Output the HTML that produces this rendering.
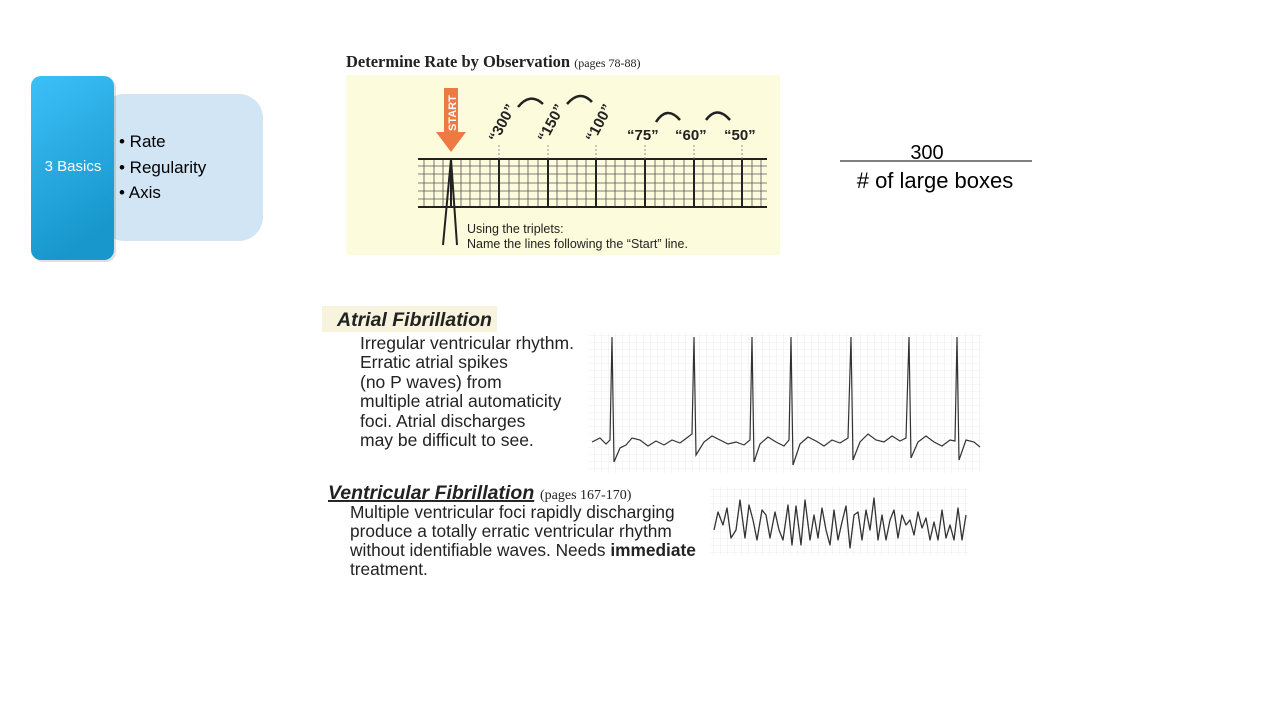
<!DOCTYPE html>
<html><head><meta charset="utf-8"><style>
html,body{margin:0;padding:0;background:#fff;}
body{width:1280px;height:720px;overflow:hidden;position:relative;font-family:"Liberation Sans",sans-serif;}
</style></head><body>
<svg width="1280" height="720" viewBox="0 0 1280 720" xmlns="http://www.w3.org/2000/svg" style="position:absolute;left:0;top:0">
<defs>
<linearGradient id="bg1" x1="0" y1="0" x2="0.3" y2="1">
<stop offset="0" stop-color="#3cc0f8"/><stop offset="1" stop-color="#1797cc"/></linearGradient>
<pattern id="sg" width="7" height="7" patternUnits="userSpaceOnUse"><path d="M7 0V7H0" fill="none" stroke="#e0e0e0" stroke-width="0.6"/></pattern>
</defs>
<rect x="100" y="94" width="163" height="147" rx="24" fill="#d2e5f5"/>
<rect x="33" y="78" width="83" height="184" rx="10" fill="#000" opacity="0.12"/>
<rect x="31" y="76" width="83" height="184" rx="10" fill="url(#bg1)"/>
<text x="73" y="171" fill="#fff" font-size="15" text-anchor="middle">3 Basics</text>
<g font-size="17" fill="#000">
<text x="119" y="147">• Rate</text>
<text x="119" y="173">• Regularity</text>
<text x="119" y="198">• Axis</text>
</g>
<text x="927" y="159" font-size="20" text-anchor="middle">300</text>
<line x1="840" y1="161" x2="1032" y2="161" stroke="#000" stroke-width="1"/>
<text x="935" y="188" font-size="22" text-anchor="middle"># of large boxes</text>
<text x="346" y="67" font-family="Liberation Serif,serif" font-weight="bold" font-size="16.5" fill="#222">Determine Rate by Observation <tspan font-weight="normal" font-size="12">(pages 78-88)</tspan></text>
<rect x="346" y="75" width="434" height="180" fill="#fcfbdc"/>
<g stroke="#555" stroke-width="0.8">
<path d="M418 166H767M418 174H767M418 183H767M418 191H767M418 199H767"/>
<path d="M424 159V207M434 159V207M443 159V207M461 159V207M470 159V207M480 159V207M490 159V207M509 159V207M519 159V207M528 159V207M538 159V207M557 159V207M567 159V207M577 159V207M586 159V207M606 159V207M615 159V207M625 159V207M635 159V207M655 159V207M664 159V207M674 159V207M684 159V207M703 159V207M713 159V207M723 159V207M732 159V207M752 159V207M761 159V207"/>
</g>
<g stroke="#222" stroke-width="2">
<path d="M418 159H767M418 207H767"/>
<path d="M451 159V207M499 159V207M548 159V207M596 159V207M645 159V207M694 159V207M742 159V207"/>
<path d="M451 159L443 245M451 159L457 245"/>
</g>
<g stroke="#777" stroke-width="0.8" stroke-dasharray="2 2">
<path d="M499 145V159M548 145V159M596 145V159M645 145V159M694 145V159M742 145V159"/>
</g>
<path d="M444 88H458V132H466L451 152L436 132H444Z" fill="#ee7a43"/>
<text transform="translate(456,131) rotate(-90)" font-size="11" font-weight="bold" fill="#fff">START</text>
<g font-size="15" font-weight="bold" fill="#222">
<text transform="translate(497,143) rotate(-62)">“300”</text>
<text transform="translate(546,143) rotate(-62)">“150”</text>
<text transform="translate(594,143) rotate(-62)">“100”</text>
<text x="627" y="140">“75”</text>
<text x="675" y="140">“60”</text>
<text x="724" y="140">“50”</text>
</g>
<g fill="none" stroke="#222" stroke-width="2.5">
<path d="M518 107Q530 92 543 104"/><path d="M567 104Q580 89 592 102"/>
<path d="M656 122Q667 105 680 120"/><path d="M706 120Q717 105 730 120"/>
</g>
<text x="467" y="233" font-size="12.5" fill="#222">Using the triplets:</text>
<text x="467" y="248" font-size="12.5" fill="#222">Name the lines following the “Start” line.</text>
<rect x="322" y="306" width="175" height="26" fill="#f7f3dc"/>
<text x="337" y="326" font-size="19.5" font-weight="bold" font-style="italic" fill="#222">Atrial Fibrillation</text>
<g font-size="17.5" fill="#222">
<text x="360" y="349">Irregular ventricular rhythm.</text>
<text x="360" y="368">Erratic atrial spikes</text>
<text x="360" y="388">(no P waves) from</text>
<text x="360" y="407">multiple atrial automaticity</text>
<text x="360" y="427">foci. Atrial discharges</text>
<text x="360" y="446">may be difficult to see.</text>
</g>
<rect x="588" y="333" width="394" height="140" fill="url(#sg)"/>
<path fill="none" stroke="#333" stroke-width="1.2" d="M592 442 L600 438 L606 444 L610 440 L612 337 L614 462 L620 448 L626 445 L632 438 L640 440 L648 446 L656 441 L664 445 L672 440 L680 443 L688 437 L692 434 L694 337 L696 455 L704 442 L712 436 L720 440 L728 444 L736 442 L744 445 L750 440 L752 337 L754 462 L760 444 L768 437 L776 442 L784 446 L789 440 L791 337 L793 465 L800 444 L808 437 L816 441 L824 446 L832 440 L840 443 L848 438 L851 337 L853 460 L860 442 L868 434 L876 440 L884 442 L892 436 L900 441 L906 438 L909 337 L911 458 L918 442 L926 436 L934 442 L942 446 L950 440 L955 441 L957 337 L959 460 L966 440 L974 442 L980 447"/>
<text x="328" y="499" font-size="19.5" font-weight="bold" font-style="italic" fill="#222" text-decoration="underline">Ventricular Fibrillation</text>
<text x="540" y="499" font-family="Liberation Serif,serif" font-size="14" fill="#222">(pages 167-170)</text>
<g font-size="17.3" fill="#222">
<text x="350" y="518">Multiple ventricular foci rapidly discharging</text>
<text x="350" y="537">produce a totally erratic ventricular rhythm</text>
<text x="350" y="556">without identifiable waves. Needs <tspan font-weight="bold">immediate</tspan></text>
<text x="350" y="575">treatment.</text>
</g>
<rect x="710" y="487" width="258" height="68" fill="url(#sg)"/>
<polyline fill="none" stroke="#333" stroke-width="1.3" stroke-linejoin="round" points="714,530 718,512 723,525 727,508 731,538 736,530 740,500 745,538 749,505 753,520 757,540 762,510 766,515 770,538 775,512 779,530 783,540 788,505 792,545 796,506 801,545 805,500 810,540 814,515 818,538 822,508 826,530 830,545 834,510 838,540 842,522 846,506 850,548 854,515 858,512 862,540 866,510 870,530 874,498 878,540 882,515 886,540 890,520 894,510 898,538 902,515 906,525 910,520 914,535 918,512 922,528 926,518 930,540 934,522 938,540 942,510 946,538 950,525 954,540 958,508 962,540 966,515"/>
</svg>
</body></html>
